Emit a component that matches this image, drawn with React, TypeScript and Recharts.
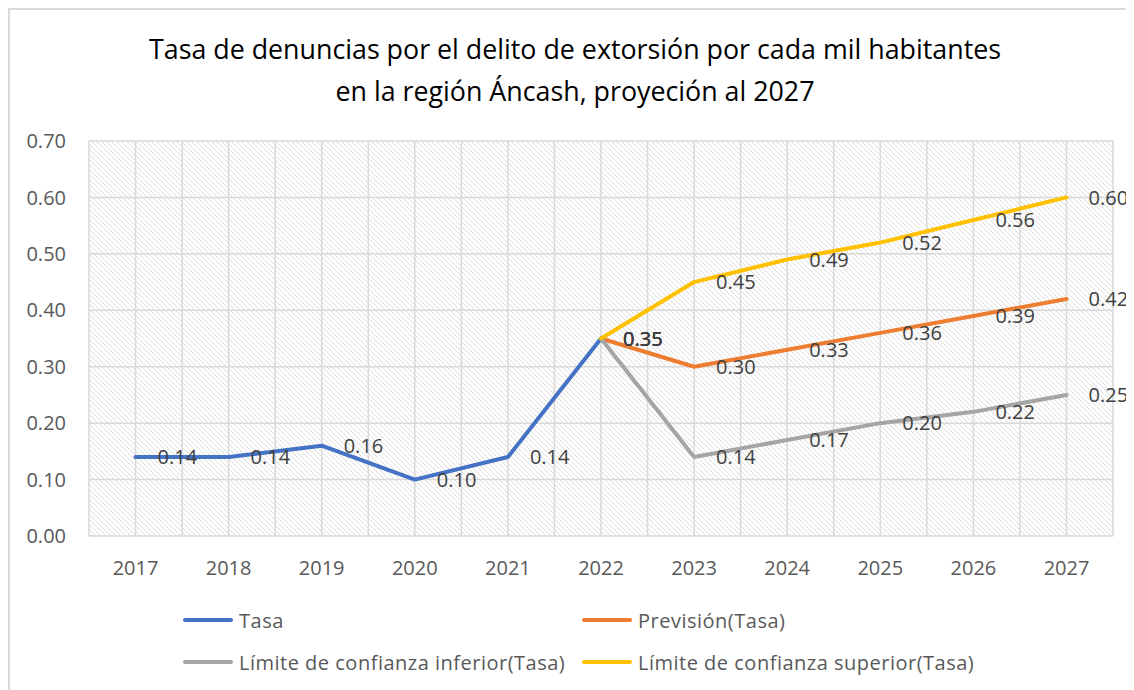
import React from "react";
import { CartesianGrid, LabelList, Line, LineChart, XAxis, YAxis } from "recharts";

const years = ["2017", "2018", "2019", "2020", "2021", "2022", "2023", "2024", "2025", "2026", "2027"];
const tasa = [0.14, 0.14, 0.16, 0.1, 0.14, 0.35, null, null, null, null, null];
const prevision = [null, null, null, null, null, 0.35, 0.3, 0.33, 0.36, 0.39, 0.42];
const inferior = [null, null, null, null, null, 0.35, 0.14, 0.17, 0.2, 0.22, 0.25];
const superior = [null, null, null, null, null, 0.35, 0.45, 0.49, 0.52, 0.56, 0.6];
const yTicks = [0, 0.1, 0.2, 0.3, 0.4, 0.5, 0.6, 0.7];

const series = [
  { key: "tasa", name: "Tasa", color: "#4472C4" },
  { key: "prevision", name: "Previsión(Tasa)", color: "#ED7D31" },
  { key: "inferior", name: "Límite de confianza inferior(Tasa)", color: "#A5A5A5" },
  { key: "superior", name: "Límite de confianza superior(Tasa)", color: "#FFC000" },
];

const data = years.map((year, i) => ({
  year,
  tasa: tasa[i],
  prevision: prevision[i],
  inferior: inferior[i],
  superior: superior[i],
}));

const numFont = "'Open Sans', sans-serif";

const renderLabel = (props: any) => {
  const { x, y, value } = props;
  if (value == null) return null;
  return (
    <text x={x + 22} y={y} dy="0.36em" fontSize={20} fontFamily={numFont} fill="#404040">
      {Number(value).toFixed(2)}
    </text>
  );
};

// legend placement (two columns, two rows)
const legendPos = [
  { left: 173, top: 610 },
  { left: 572, top: 610 },
  { left: 173, top: 652 },
  { left: 572, top: 652 },
];

export default function App() {
  return (
    <div
      style={{
        position: "relative",
        width: 1126,
        height: 682,
        boxSizing: "border-box",
        borderTop: "2px solid #d9d9d9",
        borderLeft: "2px solid #d9d9d9",
        background: "#fff",
      }}
    >
      <div
        style={{
          position: "absolute",
          left: 0,
          top: 18,
          width: 1130,
          textAlign: "center",
          fontFamily: numFont,
          fontSize: 26.8,
          lineHeight: "42px",
          color: "#000",
        }}
      >
        <div>Tasa de denuncias por el delito de extorsión por cada mil habitantes</div>
        <div>en la región Áncash, proyeción al 2027</div>
      </div>

      <LineChart width={1124} height={680} data={data} margin={{ top: 131, right: 21, left: 0, bottom: 94 }}>
        <defs>
          <pattern id="hatch" patternUnits="userSpaceOnUse" width={5} height={5}>
            <rect width={5} height={5} fill="#ffffff" />
            <path d="M-1,-1 L6,6 M-1,4 L1,6 M4,-1 L6,1" stroke="#dcdcdc" strokeWidth={1} />
          </pattern>
        </defs>
        <CartesianGrid
          fill="url(#hatch)"
          fillOpacity={1}
          stroke="#d9d9d9"
          strokeWidth={1.5}
          verticalCoordinatesGenerator={({ offset }: any) =>
            Array.from({ length: 23 }, (_, i) => offset.left + (i * offset.width) / 22)
          }
        />
        <XAxis
          dataKey="year"
          height={60}
          padding={{ left: 46.5, right: 46.5 }}
          axisLine={false}
          tickLine={false}
          tickMargin={19}
          tick={{ fontSize: 20, fontFamily: numFont, fill: "#595959" }}
          interval={0}
        />
        <YAxis
          width={79}
          domain={[0, 0.7]}
          ticks={yTicks}
          axisLine={false}
          tickLine={false}
          tickMargin={17}
          tickFormatter={(v: number) => v.toFixed(2)}
          tick={{ fontSize: 20, fontFamily: numFont, fill: "#595959" }}
        />
        {series.map((s) => (
          <Line
            key={s.key}
            dataKey={s.key}
            name={s.name}
            stroke={s.color}
            strokeWidth={4}
            strokeLinecap="round"
            strokeLinejoin="round"
            dot={false}
            activeDot={false}
            isAnimationActive={false}
          >
            <LabelList dataKey={s.key} content={renderLabel} />
          </Line>
        ))}
      </LineChart>

      {series.map((s, i) => (
        <div
          key={s.key}
          style={{
            position: "absolute",
            left: legendPos[i].left,
            top: legendPos[i].top - 13,
            height: 26,
            display: "flex",
            alignItems: "center",
            fontFamily: numFont,
            fontSize: 20,
            letterSpacing: 0.5,
            color: "#595959",
            whiteSpace: "nowrap",
          }}
        >
          <span
            style={{
              display: "inline-block",
              width: 50,
              height: 4,
              borderRadius: 2,
              background: s.color,
              marginRight: 6,
            }}
          />
          {s.name}
        </div>
      ))}
    </div>
  );
}
